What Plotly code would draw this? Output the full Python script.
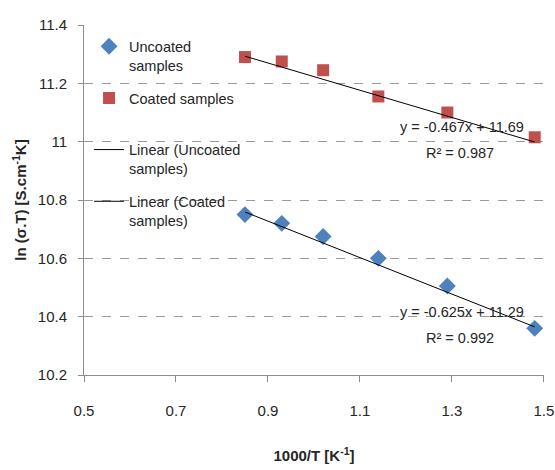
import plotly.graph_objects as go
import numpy as np

# Data
inv_T = [0.85, 0.93, 1.02, 1.14, 1.29, 1.48]
uncoated = [10.75, 10.72, 10.675, 10.60, 10.505, 10.36]
coated = [11.29, 11.275, 11.245, 11.155, 11.10, 11.015]

# Trendline coefficients (from chart labels)
unc_slope, unc_int, unc_r2 = -0.625, 11.29, 0.992
coa_slope, coa_int, coa_r2 = -0.467, 11.69, 0.987

x_ticks = [0.5, 0.7, 0.9, 1.1, 1.3, 1.5]
x_tick_text = ["0.5", "0.7", "0.9", "1.1", "1.3", "1.5"]
y_ticks = [10.2, 10.4, 10.6, 10.8, 11.0, 11.2, 11.4]
y_tick_text = ["10.2", "10.4", "10.6", "10.8", "11", "11.2", "11.4"]

FONT = "Liberation Sans, Arial, sans-serif"
TXT = "#262626"

x_line = np.array([min(inv_T), max(inv_T)])

fig = go.Figure()
fig.add_trace(go.Scatter(
    x=inv_T, y=uncoated, mode="markers", name="Uncoated<br>samples",
    marker=dict(symbol="diamond", size=13, color="#4F81BD"),
    legendgroup="a"))
fig.add_trace(go.Scatter(
    x=inv_T, y=coated, mode="markers", name="Coated samples<br>\u00a0",
    marker=dict(symbol="square", size=12, color="#C0504D"),
    legendgroup="b"))
fig.add_trace(go.Scatter(
    x=x_line, y=unc_slope * x_line + unc_int, mode="lines",
    name="Linear (Uncoated<br>samples)", line=dict(color="black", width=1),
    legendgroup="c"))
fig.add_trace(go.Scatter(
    x=x_line, y=coa_slope * x_line + coa_int, mode="lines",
    name="Linear (Coated<br>samples)", line=dict(color="black", width=1),
    legendgroup="d"))

ann_font = dict(family=FONT, size=14.5, color=TXT)
annots = [
    (1.321, 11.051, f"y = {coa_slope}x + {coa_int}"),
    (1.318, 10.960, f"R² = {coa_r2}"),
    (1.321, 10.417, f"y = {unc_slope}x + {unc_int}"),
    (1.318, 10.326, f"R² = {unc_r2}"),
]
for ax_, ay_, t in annots:
    fig.add_annotation(x=ax_, y=ay_, xref="x", yref="y", text=t,
                       showarrow=False, font=ann_font)

fig.update_layout(
    width=555, height=470,
    margin=dict(l=84, r=11, t=25, b=95),
    paper_bgcolor="white", plot_bgcolor="white",
    font=dict(family=FONT, size=15, color=TXT),
    showlegend=True,
    legend=dict(x=0.011, y=0.985, xanchor="left", yanchor="top",
                bgcolor="rgba(0,0,0,0)", font=dict(family=FONT, size=14.5, color=TXT),
                valign="top", tracegroupgap=11),
    xaxis=dict(range=[0.5, 1.5002], tickvals=x_ticks, ticktext=x_tick_text,
               automargin=False,
               showgrid=False, zeroline=False, showline=True, linecolor="#8c8c8c",
               linewidth=1, ticks="outside", ticklen=6, tickcolor="#8c8c8c",
               ticklabelstandoff=16,
               tickfont=dict(family=FONT, size=15, color=TXT),
               title=dict(text="<b>1000/T [K<sup>-1</sup>]</b>",
                          font=dict(family=FONT, size=15, color=TXT), standoff=32)),
    yaxis=dict(range=[10.2, 11.4], tickvals=y_ticks, ticktext=y_tick_text,
               automargin=False,
               showgrid=True, gridcolor="#9a9a9a", griddash="dash", gridwidth=1,
               zeroline=False, showline=True, linecolor="#8c8c8c", linewidth=1,
               ticks="outside", ticklen=5, tickcolor="#8c8c8c",
               ticklabelstandoff=8,
               tickfont=dict(family=FONT, size=15, color=TXT),
               title=dict(text="<b>ln (σ.T) [S.cm<sup>-1</sup>K]</b>",
                          font=dict(family=FONT, size=15, color=TXT),
                          standoff=7)),
)

fig.write_html("out.html")
